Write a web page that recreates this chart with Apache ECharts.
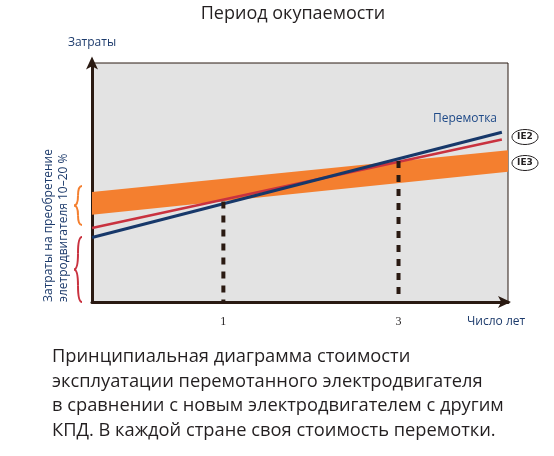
<!DOCTYPE html>
<html>
<head>
<meta charset="utf-8">
<script src="https://cdn.jsdelivr.net/npm/echarts@6/dist/echarts.min.js"></script>
<style>
html,body{margin:0;padding:0;background:#fff}
#chart{width:554px;height:456px}
</style>
</head>
<body>
<div id="chart"></div>
<script>
// ---------------- data (x = years, y = relative cost) ----------------
var rewindX = [-0.5, 4.18];
var rewindY = [27, 71];
var ie2X = [-0.5, 4.18];
var ie2Y = [31, 68];
var ie3X = [-0.5, 4.25];
var ie3Top = [46, 63.5];
var ie3Bottom = [36.5, 54.5];
var paybackYears = [1, 3];
var paybackCost = [42, 59];
var tickLabels = ['1', '3'];

var dark = '#2a1a12';
var ink = '#231f20';
var navy = '#1d3b6c';
var font = 'Open Sans';

function pairs(xs, ys) {
  return xs.map(function (x, i) { return [x, ys[i]]; });
}

// curly brace "{" made of four quadratic curves
function brace(x, y, w, h, color) {
  var m = x + w / 2, c = y + h / 2, r = x + w, b = y + h;
  var st = { stroke: color, lineWidth: 2, fill: 'none' };
  return [
    { type: 'bezierCurve', shape: { x1: r, y1: y, cpx1: m, cpy1: y, x2: m, y2: y + h / 4 }, style: st },
    { type: 'bezierCurve', shape: { x1: m, y1: y + h / 4, cpx1: m, cpy1: c, x2: x, y2: c }, style: st },
    { type: 'bezierCurve', shape: { x1: x, y1: c, cpx1: m, cpy1: c, x2: m, y2: b - h / 4 }, style: st },
    { type: 'bezierCurve', shape: { x1: m, y1: b - h / 4, cpx1: m, cpy1: b, x2: r, y2: b }, style: st }
  ];
}

var series = [];

// IE3 band
series.push({
  type: 'custom',
  name: 'IE3',
  silent: true,
  z: 2,
  data: ie3X.map(function (x, i) { return [x, ie3Top[i], ie3Bottom[i]]; }),
  encode: { x: 0, y: [1, 2] },
  renderItem: function (params, api) {
    var i = params.dataIndex;
    if (i >= ie3X.length - 1) return null;
    var pts = [
      api.coord([ie3X[i], ie3Top[i]]),
      api.coord([ie3X[i + 1], ie3Top[i + 1]]),
      api.coord([ie3X[i + 1], ie3Bottom[i + 1]]),
      api.coord([ie3X[i], ie3Bottom[i]])
    ];
    return { type: 'polygon', shape: { points: pts }, style: { fill: '#f47f2f' } };
  }
});

// IE2 line
series.push({
  type: 'line', name: 'IE2', z: 3, symbol: 'none', silent: true,
  data: pairs(ie2X, ie2Y),
  lineStyle: { color: '#c9323f', width: 2.5 }
});

// rewound motor line
series.push({
  type: 'line', name: 'Перемотка', z: 4, symbol: 'none', silent: true,
  data: pairs(rewindX, rewindY),
  lineStyle: { color: '#17386a', width: 3 }
});

// payback dashed verticals
paybackYears.forEach(function (yr, k) {
  series.push({
    type: 'line', z: 5, symbol: 'none', silent: true,
    data: [[yr, paybackCost[k]], [yr, 0]],
    lineStyle: { color: dark, width: 4, type: [7, 7] }
  });
});

var graphics = [
  { type: 'text', x: 293, y: 14, style: { text: 'Период окупаемости', fill: ink, font: '18px "' + font + '"', align: 'center', verticalAlign: 'middle' } },
  { type: 'text', x: 467, y: 322, style: { text: 'Число лет', fill: navy, font: '12px "' + font + '"', verticalAlign: 'middle' } },
  { type: 'text', x: 497, y: 119, style: { text: 'Перемотка', fill: '#1f4a88', font: '12px "' + font + '"', align: 'right', verticalAlign: 'middle' } },
  { type: 'text', x: 49, y: 302, rotation: Math.PI / 2, style: { text: 'Затраты на преобретение', fill: navy, font: '12px "' + font + '"', verticalAlign: 'middle' } },
  { type: 'text', x: 64, y: 302, rotation: Math.PI / 2, style: { text: 'элетродвигателя 10–20 %', fill: navy, font: '12px "' + font + '"', verticalAlign: 'middle' } },
  { type: 'ellipse', shape: { cx: 525, cy: 137, rx: 13, ry: 7.5 }, style: { fill: '#fff', stroke: ink, lineWidth: 1 } },
  { type: 'text', x: 525, y: 137, style: { text: 'IE2', fill: ink, font: 'bold 9px "DejaVu Sans"', align: 'center', verticalAlign: 'middle' } },
  { type: 'ellipse', shape: { cx: 525, cy: 163, rx: 13, ry: 7.5 }, style: { fill: '#fff', stroke: ink, lineWidth: 1 } },
  { type: 'text', x: 525, y: 163, style: { text: 'IE3', fill: ink, font: 'bold 9px "DejaVu Sans"', align: 'center', verticalAlign: 'middle' } },
  { type: 'text', x: 52, y: 345, style: {
    text: 'Принципиальная диаграмма стоимости\nэксплуатации перемотанного электродвигателя\nв сравнении с новым электродвигателем с другим\nКПД. В каждой стране своя стоимость перемотки.',
    fill: ink, font: '18.3px "' + font + '"', lineHeight: 24.5 } }
];
graphics = graphics.concat(brace(74, 186, 8, 39, '#f47f2f'), brace(74, 237, 8, 65, '#c9323f'));

var chart = echarts.init(document.getElementById('chart'));
chart.setOption({
  animation: false,
  grid: {
    left: 92, right: 46, top: 63, bottom: 154,
    show: true, backgroundColor: '#e3e3e3',
    borderColor: dark, borderWidth: 1
  },
  xAxis: {
    type: 'value', min: -0.5, max: 4.25, interval: 0.5,
    splitLine: { show: false },
    axisTick: { show: false },
    axisLine: {
      onZero: false,
      lineStyle: { color: dark, width: 3 },
      symbol: ['none', 'arrow'], symbolSize: [9, 13], symbolOffset: [0, 3]
    },
    axisLabel: {
      margin: 14, color: ink, fontSize: 12, fontFamily: 'Liberation Serif',
      showMinLabel: false, showMaxLabel: false,
      formatter: function (v) {
        var s = String(v);
        return tickLabels.indexOf(s) >= 0 ? s : '';
      }
    }
  },
  yAxis: {
    type: 'value', min: 0, max: 100,
    name: 'Затраты', nameLocation: 'end', nameGap: 14,
    nameTextStyle: { color: navy, fontSize: 12, fontFamily: font, align: 'center' },
    splitLine: { show: false },
    axisTick: { show: false },
    axisLabel: { show: false },
    axisLine: {
      onZero: false,
      lineStyle: { color: dark, width: 3 },
      symbol: ['none', 'arrow'], symbolSize: [9, 13], symbolOffset: [0, 6.5]
    }
  },
  series: series,
  graphic: graphics
});
</script>
</body>
</html>
